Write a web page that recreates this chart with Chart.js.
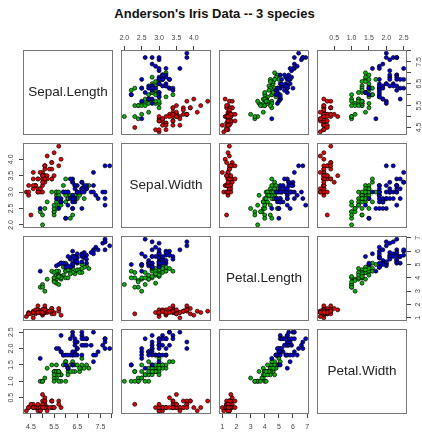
<!DOCTYPE html>
<html>
<head>
<meta charset="utf-8">
<script src="https://cdn.jsdelivr.net/npm/chart.js@4.4.0/dist/chart.umd.min.js"></script>
<style>
  body { margin: 0; background: #fff; width: 422px; height: 434px; overflow: hidden; position: relative;
         font-family: "Liberation Sans", Arial, sans-serif; }
  #title { position: absolute; left: 0; width: 429px; top: 6px; text-align: center;
           font-weight: bold; font-size: 13px; color: #111; }
  canvas.cell { position: absolute; }
</style>
</head>
<body>
<div id="title">Anderson's Iris Data -- 3 species</div>
<script>
// Iris measurements, 50 rows per species (setosa, versicolor, virginica)
const varNames = ['Sepal.Length', 'Sepal.Width', 'Petal.Length', 'Petal.Width'];
const speciesNames = ['setosa', 'versicolor', 'virginica'];
const speciesCounts = [50, 50, 50];
const speciesColors = ['#ee0000', '#00bb00', '#0000dd'];

const sepalLength = [
  5.1,4.9,4.7,4.6,5.0,5.4,4.6,5.0,4.4,4.9,5.4,4.8,4.8,4.3,5.8,5.7,5.4,5.1,5.7,5.1,5.4,5.1,4.6,5.1,4.8,
  5.0,5.0,5.2,5.2,4.7,4.8,5.4,5.2,5.5,4.9,5.0,5.5,4.9,4.4,5.1,5.0,4.5,4.4,5.0,5.1,4.8,5.1,4.6,5.3,5.0,
  7.0,6.4,6.9,5.5,6.5,5.7,6.3,4.9,6.6,5.2,5.0,5.9,6.0,6.1,5.6,6.7,5.6,5.8,6.2,5.6,5.9,6.1,6.3,6.1,6.4,
  6.6,6.8,6.7,6.0,5.7,5.5,5.5,5.8,6.0,5.4,6.0,6.7,6.3,5.6,5.5,5.5,6.1,5.8,5.0,5.6,5.7,5.7,6.2,5.1,5.7,
  6.3,5.8,7.1,6.3,6.5,7.6,4.9,7.3,6.7,7.2,6.5,6.4,6.8,5.7,5.8,6.4,6.5,7.7,7.7,6.0,6.9,5.6,7.7,6.3,6.7,
  7.2,6.2,6.1,6.4,7.2,7.4,7.9,6.4,6.3,6.1,7.7,6.3,6.4,6.0,6.9,6.7,6.9,5.8,6.8,6.7,6.7,6.3,6.5,6.2,5.9
];
const sepalWidth = [
  3.5,3.0,3.2,3.1,3.6,3.9,3.4,3.4,2.9,3.1,3.7,3.4,3.0,3.0,4.0,4.4,3.9,3.5,3.8,3.8,3.4,3.7,3.6,3.3,3.4,
  3.0,3.4,3.5,3.4,3.2,3.1,3.4,4.1,4.2,3.1,3.2,3.5,3.6,3.0,3.4,3.5,2.3,3.2,3.5,3.8,3.0,3.8,3.2,3.7,3.3,
  3.2,3.2,3.1,2.3,2.8,2.8,3.3,2.4,2.9,2.7,2.0,3.0,2.2,2.9,2.9,3.1,3.0,2.7,2.2,2.5,3.2,2.8,2.5,2.8,2.9,
  3.0,2.8,3.0,2.9,2.6,2.4,2.4,2.7,2.7,3.0,3.4,3.1,2.3,3.0,2.5,2.6,3.0,2.6,2.3,2.7,3.0,2.9,2.9,2.5,2.8,
  3.3,2.7,3.0,2.9,3.0,3.0,2.5,2.9,2.5,3.6,3.2,2.7,3.0,2.5,2.8,3.2,3.0,3.8,2.6,2.2,3.2,2.8,2.8,2.7,3.3,
  3.2,2.8,3.0,2.8,3.0,2.8,3.8,2.8,2.8,2.6,3.0,3.4,3.1,3.0,3.1,3.1,3.1,2.7,3.2,3.3,3.0,2.5,3.0,3.4,3.0
];
const petalLength = [
  1.4,1.4,1.3,1.5,1.4,1.7,1.4,1.5,1.4,1.5,1.5,1.6,1.4,1.1,1.2,1.5,1.3,1.4,1.7,1.5,1.7,1.5,1.0,1.7,1.9,
  1.6,1.6,1.5,1.4,1.6,1.6,1.5,1.5,1.4,1.5,1.2,1.3,1.4,1.3,1.5,1.3,1.3,1.3,1.6,1.9,1.4,1.6,1.4,1.5,1.4,
  4.7,4.5,4.9,4.0,4.6,4.5,4.7,3.3,4.6,3.9,3.5,4.2,4.0,4.7,3.6,4.4,4.5,4.1,4.5,3.9,4.8,4.0,4.9,4.7,4.3,
  4.4,4.8,5.0,4.5,3.5,3.8,3.7,3.9,5.1,4.5,4.5,4.7,4.4,4.1,4.0,4.4,4.6,4.0,3.3,4.2,4.2,4.2,4.3,3.0,4.1,
  6.0,5.1,5.9,5.6,5.8,6.6,4.5,6.3,5.8,6.1,5.1,5.3,5.5,5.0,5.1,5.3,5.5,6.7,6.9,5.0,5.7,4.9,6.7,4.9,5.7,
  6.0,4.8,4.9,5.6,5.8,6.1,6.4,5.6,5.1,5.6,6.1,5.6,5.5,4.8,5.4,5.6,5.1,5.1,5.9,5.7,5.2,5.0,5.2,5.4,5.1
];
const petalWidth = [
  0.2,0.2,0.2,0.2,0.2,0.4,0.3,0.2,0.2,0.1,0.2,0.2,0.1,0.1,0.2,0.4,0.4,0.3,0.3,0.3,0.2,0.4,0.2,0.5,0.2,
  0.2,0.4,0.2,0.2,0.2,0.2,0.4,0.1,0.2,0.2,0.2,0.2,0.1,0.2,0.2,0.3,0.3,0.2,0.6,0.4,0.3,0.2,0.2,0.2,0.2,
  1.4,1.5,1.5,1.3,1.5,1.3,1.6,1.0,1.3,1.4,1.0,1.5,1.0,1.4,1.3,1.4,1.5,1.0,1.5,1.1,1.8,1.3,1.5,1.2,1.3,
  1.4,1.4,1.7,1.5,1.0,1.1,1.0,1.2,1.6,1.5,1.6,1.5,1.3,1.3,1.3,1.2,1.4,1.2,1.0,1.3,1.2,1.3,1.3,1.1,1.3,
  2.5,1.9,2.1,1.8,2.2,2.1,1.7,1.8,1.8,2.5,2.0,1.9,2.1,2.0,2.4,2.3,1.8,2.2,2.3,1.5,2.3,2.0,2.0,1.8,2.1,
  1.8,1.8,1.8,2.1,1.6,1.9,2.0,2.2,1.5,1.4,2.3,2.4,1.8,1.8,2.1,2.4,2.3,1.9,2.3,2.5,2.3,1.9,2.0,2.3,1.8
];

// tick positions and labels per variable (R drops overlapping labels on Sepal.Length)
const sepalLengthTicks = [4.5, 5, 5.5, 6, 6.5, 7, 7.5, 8];
const sepalLengthTickLabels = ['4.5', '', '5.5', '', '6.5', '', '7.5', ''];
const sepalWidthTicks = [2, 2.5, 3, 3.5, 4];
const sepalWidthTickLabels = ['2.0', '2.5', '3.0', '3.5', '4.0'];
const petalLengthTicks = [1, 2, 3, 4, 5, 6, 7];
const petalLengthTickLabels = ['1', '2', '3', '4', '5', '6', '7'];
const petalWidthTicks = [0.5, 1, 1.5, 2, 2.5];
const petalWidthTickLabels = ['0.5', '1.0', '1.5', '2.0', '2.5'];

const columns = [sepalLength, sepalWidth, petalLength, petalWidth];
const tickSets = [sepalLengthTicks, sepalWidthTicks, petalLengthTicks, petalWidthTicks];
const tickLabelSets = [sepalLengthTickLabels, sepalWidthTickLabels, petalLengthTickLabels, petalWidthTickLabels];

// panel geometry
const colLeft = [23, 121, 219, 317];
const rowTop = [50, 143, 236, 329];
const panelW = 90, panelH = 85, M = 30;
const fontStack = '"Liberation Sans", Arial, sans-serif';

// data range widened by 4% like R's pairs()
const ranges = columns.map(v => {
  const lo = Math.min(...v), hi = Math.max(...v), d = (hi - lo) * 0.04;
  return [lo - d, hi + d];
});

function makeScale(k, axis, pos) {
  const horizontal = axis === 'x';
  const shown = !!pos;
  const s = {
    type: 'linear',
    axis: axis,
    display: shown,
    position: pos || (horizontal ? 'bottom' : 'left'),
    min: ranges[k][0],
    max: ranges[k][1],
    afterBuildTicks: scale => { scale.ticks = tickSets[k].map(v => ({ value: v })); },
    grid: { display: true, drawOnChartArea: false, drawTicks: true, tickLength: 4, color: '#444', lineWidth: 1 },
    border: { display: false },
    ticks: {
      autoSkip: false,
      color: '#444',
      font: { family: fontStack, size: 7 },
      minRotation: horizontal ? 0 : 90,
      maxRotation: horizontal ? 0 : 90,
      crossAlign: horizontal ? 'near' : 'center',
      padding: horizontal ? (pos === 'top' ? 4 : 5) : (k === 2 ? 5 : 3),
      callback: (value, i) => tickLabelSets[k][i]
    }
  };
  if (shown) {
    s.afterFit = scale => { if (horizontal) scale.height = M; else scale.width = M; };
  }
  return s;
}

const panelBox = {
  id: 'panelBox',
  afterDraw(chart) {
    const a = chart.chartArea, ctx = chart.ctx;
    ctx.save();
    ctx.strokeStyle = '#777';
    ctx.lineWidth = 1;
    ctx.strokeRect(Math.round(a.left) + 0.5, Math.round(a.top) + 0.5,
                   Math.round(a.right - a.left) - 1, Math.round(a.bottom - a.top) - 1);
    const label = chart.options.plugins.panelBox.label;
    if (label) {
      ctx.fillStyle = '#222';
      ctx.font = '13.5px ' + fontStack;
      ctx.textAlign = 'center';
      ctx.textBaseline = 'middle';
      ctx.fillText(label, (a.left + a.right) / 2, (a.top + a.bottom) / 2);
    }
    ctx.restore();
  }
};

function seriesFor(xv, yv) {
  let start = 0;
  return speciesNames.map((name, s) => {
    const pts = [];
    for (let r = start; r < start + speciesCounts[s]; r++) pts.push({ x: xv[r], y: yv[r] });
    start += speciesCounts[s];
    return {
      label: name,
      data: pts,
      order: 3 - s,
      pointRadius: 2,
      pointBorderWidth: 0.7,
      pointBorderColor: '#000',
      pointBackgroundColor: speciesColors[s]
    };
  });
}

for (let i = 0; i < 4; i++) {
  for (let j = 0; j < 4; j++) {
    const canvas = document.createElement('canvas');
    canvas.className = 'cell';
    canvas.width = panelW + 2 * M;
    canvas.height = panelH + 2 * M;
    canvas.style.left = (colLeft[j] - M) + 'px';
    canvas.style.top = (rowTop[i] - M) + 'px';
    document.body.appendChild(canvas);

    const xPos = (i === 0 && j % 2 === 1) ? 'top' : (i === 3 && j % 2 === 0) ? 'bottom' : null;
    const yPos = (j === 0 && i % 2 === 1) ? 'left' : (j === 3 && i % 2 === 0) ? 'right' : null;
    const diag = i === j;

    new Chart(canvas, {
      type: 'scatter',
      data: { datasets: diag ? [] : seriesFor(columns[j], columns[i]) },
      options: {
        responsive: false,
        animation: false,
        devicePixelRatio: 1,
        events: [],
        layout: {
          padding: {
            top: xPos === 'top' ? 0 : M,
            bottom: xPos === 'bottom' ? 0 : M,
            left: yPos === 'left' ? 0 : M,
            right: yPos === 'right' ? 0 : M
          }
        },
        scales: {
          x: makeScale(j, 'x', xPos),
          y: makeScale(i, 'y', yPos)
        },
        plugins: {
          legend: { display: false },
          tooltip: { enabled: false },
          panelBox: { label: diag ? varNames[i] : '' }
        }
      },
      plugins: [panelBox]
    });
  }
}
</script>
</body>
</html>
